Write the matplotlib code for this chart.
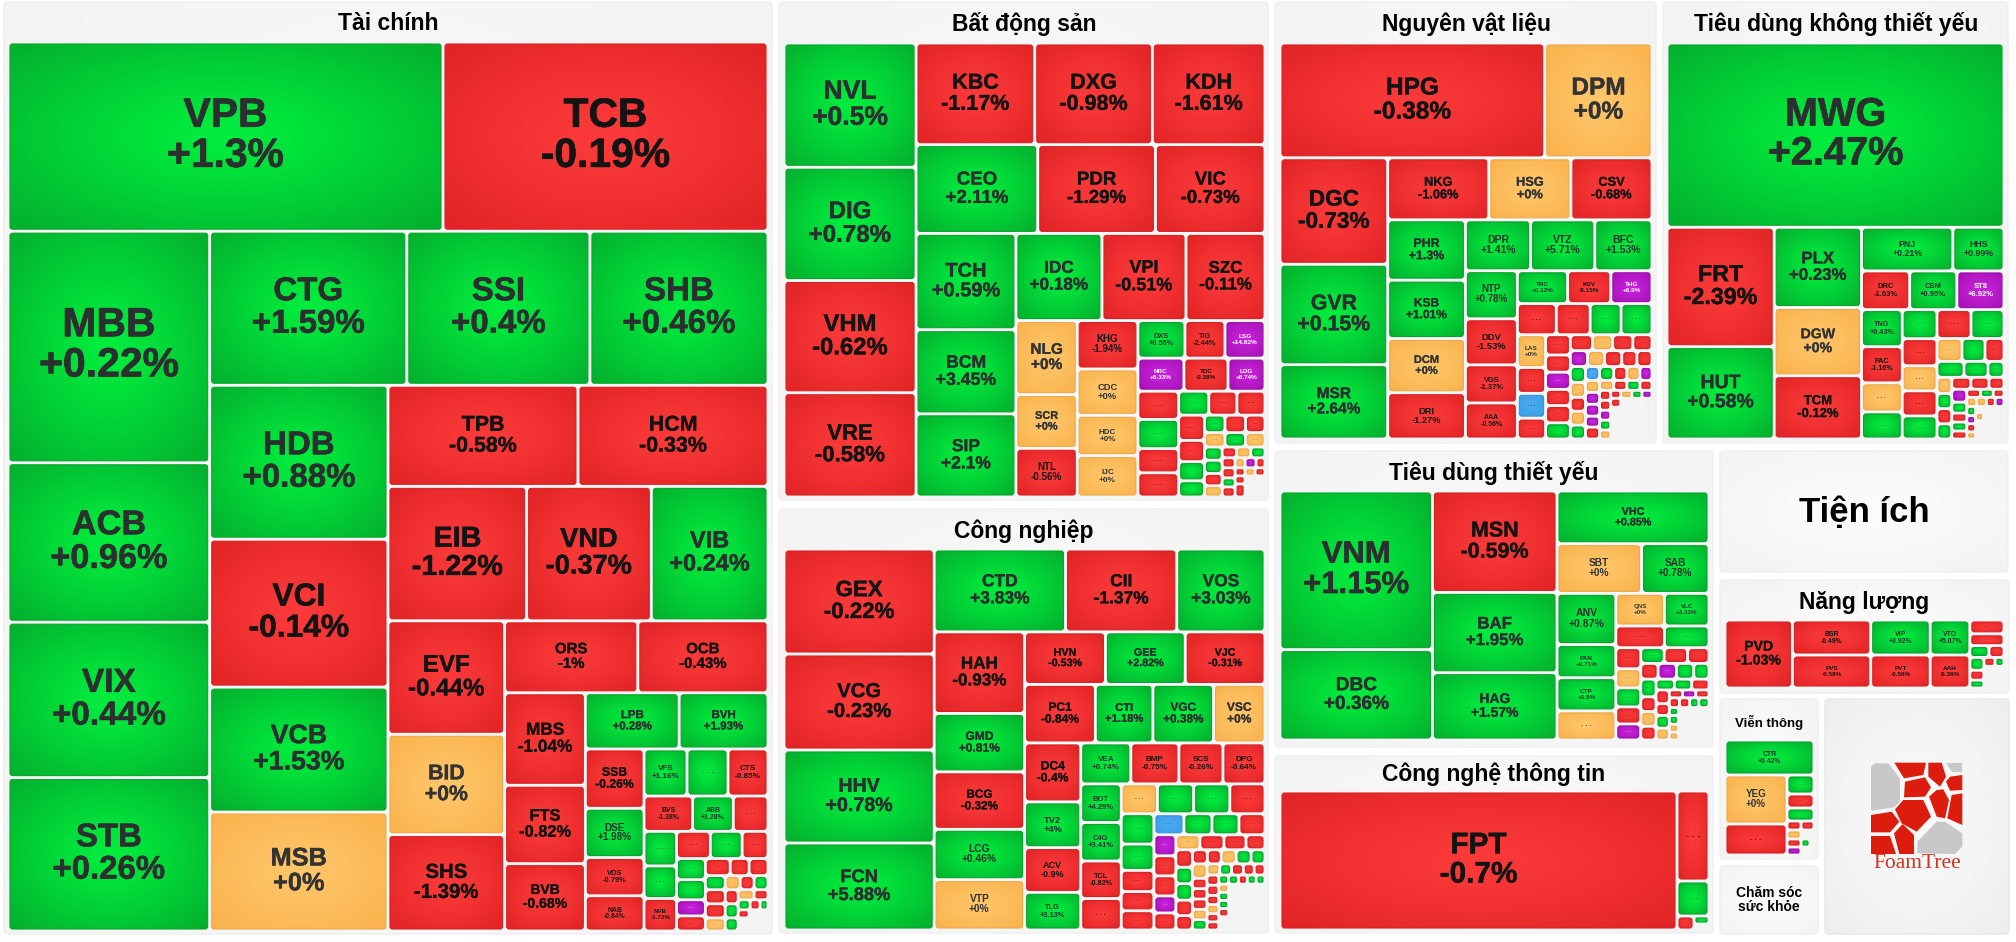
import numpy as np
import matplotlib
matplotlib.use('Agg')
import matplotlib.pyplot as plt
import matplotlib.patheffects as pe
from matplotlib.patches import FancyBboxPatch, Polygon

plt.rcParams['font.family'] = ['Liberation Sans', 'DejaVu Sans']

H = '...'   # ticker hidden by the chart because its cell is small
N = ''      # empty slot left at the end of a treemap

# ---- Tài chính
TC_TICKERS = ['VPB','TCB','MBB','ACB','VIX','STB','CTG','SSI','SHB','HDB','VCI','VCB','MSB','TPB','HCM',
              'EIB','VND','VIB','EVF','BID','SHS','ORS','OCB','MBS','FTS','BVB','LPB','BVH','SSB','DSE',
              'VDS','NAB','VFS',H,'CTS','BVS','ABB',H,H,H,'NVB'] + [H]*26 + [N,N]
TC_CHANGES = [1.3,-0.19,0.22,0.96,0.44,0.26,1.59,0.4,0.46,0.88,-0.14,1.53,0,-0.58,-0.33,
              -1.22,-0.37,0.24,-0.44,0,-1.39,-1,-0.43,-1.04,-0.82,-0.68,0.28,1.93,-0.26,1.98,
              -0.79,-0.84,1.16,0.5,-0.85,-1.38,1.28,-0.5,0.5,0.5,-1.72,-0.5,0.5,-0.5,
              0.5,0.5,7,-0.5,-0.5,-0.5,-0.5,0.5,0,-0.5,0.5,-0.5,-0.5,0,-0.5,0.5,0.5,0,-0.5,0.5,-0.5,0.5,-0.5,0,0]
TC_WEIGHTS = [82215,61425,46662,32118,31310,30906,30338,28182,27412,27412,26344,22250,21182,19190,19190,
              18626,16750,15678,13221,11700,11232,9576,9360,7452,6318,5427,5264,4984,3481,2891,
              2242,2065,2021,1927,1880,1715,1435,1225,1122,1056,1056,918,864,702,
              609,580,464,435,425,323,323,280,210,196,196,280,280,260,182,182,169,160,140,120,100,80,88,152,390]
TC_SPLITS = ("[[..][[....][[...][[....][[..][...][[...][[..][[...][[..][[....][[...][...]"
             "[[...][[...][[....][[...][....][[...][...][[..][...][..].")

# ---- Bất động sản
BDS_TICKERS = ['NVL','DIG','VHM','VRE','KBC','DXG','KDH','CEO','PDR','VIC','TCH','BCM','SIP','IDC','VPI','SZC',
               'NLG','SCR','NTL','KHG','CDC','HDC','IJC','DXS','TIG','LSG','NRC','TDC','LDG'] + [H]*34 + [H,N,H,N]
BDS_CHANGES = [0.5,0.78,-0.62,-0.58,-1.17,-0.98,-1.61,2.11,-1.29,-0.73,0.59,3.45,2.1,0.18,-0.51,-0.11,
               0,0,-0.56,-1.94,0,0,0,0.56,-2.44,14.82,8.33,-0.38,6.74,
               -0.5,0.5,-0.5,-0.5,0.5,-0.5,-0.5,-0.5,-0.5,0.5,0.5,0.5,-0.5,-0.5,0,0.5,0,
               0.5,0.5,-0.5,0,-0.5,0,0.5,-0.5,-0.5,0.5,-0.5,0,7,-0.5,-0.5,0,-0.5,-0.5,0,-0.5,0]
BDS_WEIGHTS = [16368,14916,14784,13728,12036,11934,11424,10769,10413,9701,9595,8383,8282,7482,7308,6873,
               4526,3286,2976,2928,2806,2440,2501,1763,1500,1500,1518,1452,1221,
               1148,1189,984,984,720,672,672,650,546,494,416,357,357,340,294,294,280,
               234,234,216,198,154,154,154,130,130,117,130,100,110,90,80,80,80,80,160,130,260]
BDS_SPLITS = ("[[....][[...][...][[...][[...][[...][....][[...][...][[....][[...][[....]"
              "[[...][...][[....][[...][[....][[...][...][..][..")

# ---- Công nghiệp
CN_TICKERS = ['GEX','VCG','HHV','FCN','CTD','CII','VOS','HAH','GMD','BCG','LCG','VTP','HVN','GEE','VJC',
              'PC1','CTI','VGC','VSC','DC4','TV2','ACV','TLG','VEA','BMP','SCS','DPG','BOT','C4G','TCL',H] + [H]*58 + [N,N]
CN_CHANGES = [-0.22,-0.23,0.78,5.88,3.83,-1.37,3.03,-0.93,0.81,-0.32,0.46,0,-0.53,2.82,-0.31,
              -0.84,1.18,0.38,0,-0.4,4,-0.9,3.13,0.74,-0.75,-0.26,-0.64,4.29,3.41,-0.82,-0.5,
              0,0.5,0.5,-0.5, 0.5,0.5,-0.5,-0.5,-0.5, -9.5,0.5,0.5,-0.5, 7,-0.5,-0.5,7,-0.5,
              0,-0.5,-0.5,-0.5, -0.5,0.5,0.5,-0.5,-0.5, -0.5,-0.5,0,0.5,0.5, 0,-0.5,-0.5,-0.5,0,0.5,
              0,0.5,-0.5,-0.5,-0.5, -0.5,-0.5,-0.5,0,-0.5,-0.5, 0.5,0.5,-0.5,0.5,0.5, 0,0.5,0.5,-0.5,0,0]
CN_WEIGHTS = [15750,14400,13950,13050,10873,9213,7304,7371,5278,5187,4550,4550,4240,4187,4187,
              4130,3363,3540,3009,3306,2565,2508,2109,2050,1968,1804,1722,1558,1558,1517,1271,
              1080,1080,1080,1050, 990,858,693,627,627, 630,588,567,546, 462,440,440,374,374,
              360,360,330,285, 289,272,272,255,238, 210,196,210,210,196, 210,150,150,150,150,150,
              143,132,132,121,121, 120,120,108,108,96,96, 90,90,81,81,81, 80,80,80,80,130,1665]
CN_SPLITS = ("[[....][[...][[.....][[...][....][[....][[....][[....][[....][[.....][[....]"
             "[[.....][[....][[.....][[.....][[......][[.....][[......][[.....][[.....].")

# ---- Nguyên vật liệu
NVL_TICKERS = ['HPG','DPM','DGC','GVR','MSR','NKG','HSG','CSV','PHR','KSB','DCM','DRI','DPR','VTZ','BFC',
               'NTP','DDV','VGS','AAA','TRC','KSV','THG',H,H,H,H,'LAS',H,H,H] + [H]*43 + [H,N,N]
NVL_CHANGES = [-0.38,0,-0.73,0.15,2.64,-1.06,0,-0.68,1.3,1.01,0,-1.27,1.41,5.71,1.53,
               0.78,-1.53,-1.37,-0.56,0.12,-8.15,6.9,-0.5,-0.5,0.5,0.5,0,-0.5,-9.5,-0.5,
               -0.5,-0.5,7,-0.5,-0.5,0.5, -0.5,0,-0.5,-0.5, 7,0,-0.5,-0.5,-0.5,
               0.5,0,-0.5,0,0.5, -9.5,0.5,-0.5,0,7, 0,7,7,7,-0.5, 0,-0.5,0.5,-0.5,
               -0.5,-0.5,7,0.5,0, -0.5,0,0.5,7, -0.5,0,0]
NVL_WEIGHTS = [30360,12305,11448,10800,7992,6262,5084,5022,4680,4524,4212,3588,3315,3264,2907,
               2496,2392,1976,1872,1650,1419,1353,1209,1054,961,961,924,728,700,588,
               500,425,425,400,425,400, 352,320,320,304, 272,272,272,240,240,
               240,225,210,210,210, 196,196,182,182,168, 168,168,168,154,168, 140,130,130,120,
               110,110,110,110,99, 80,88,80,80, 90,279,1312]
NVL_SPLITS = ("[[..][[...][[...][[....][[...][[....][[...][....][[....][......][[....][.....]"
              "[[.....][[.....][[.....][[....][[.....][[....][..].")

# ---- Tiêu dùng không thiết yếu
TDK_TICKERS = ['MWG','FRT','HUT','PLX','DGW','TCM','PNJ','HHS','DRC','CSM','ST8','TNG','PAC',H,H] + [H]*36 + [N,H,N,N]
TDK_CHANGES = [2.47,-2.39,0.58,0.23,0,-0.12,0.21,0.99,-1.03,0.95,6.92,0.43,-1.16,0,0.5,
               0.5,-0.5,0,-0.5,0.5, -0.5,0.5, 0,0.5,-0.5, 0.5,0.5,0.5, 0,0.5,-0.5,0.5, -0.5,-0.5,-0.5,
               7,0.5,-0.5,0.5,-0.5, -0.5,0.5,-0.5, 0,0,-0.5,7, 0.5,7,-0.5,0, 0,0,0,0]
TDK_WEIGHTS = [62345,12852,9936,7040,5984,5544,4004,2244,1872,1833,1833,1517,1476,1189,1107,
               1015,945,875,875,805, 986,957, 575,529,437, 432,384,256, 240,225,225,225, 228,216,180,
               195,165,135,135,120, 112,104,88, 90,90,81,81, 81,72,72,63, 174,64,168,522]
TDK_SPLITS = ("[.[[..][...][[..][...][[....][.....][[..][...][...][[....][[...][[.....]"
              "[[...][....][[....][.[..].")

# ---- Tiêu dùng thiết yếu
TDT_TICKERS = ['VNM','DBC','MSN','BAF','HAG','VHC','SBT','SAB','ANV','PAN','CTP',H,'QNS','VLC',H,H] + [H]*34 + [N]
TDT_CHANGES = [1.15,0.36,-0.59,1.95,1.57,0.85,0,0.78,0.87,0.71,0.5,0,0,3.33,-0.5,0.5,
               -0.5,0,0.5,-0.5,7, 0.5,-0.5,-0.5, -0.5,7,0.5,0.5, 0.5,-0.5,0,-0.5, 0.5,0.5,-0.5,
               -0.5,-0.5,0.5,0, -0.5,7,-0.5, -0.5,-0.5,0.5,0.5, 0.5,0.5,0,0,0]
TDT_WEIGHTS = [24174,13770,12625,10000,8375,8003,4200,3350,3009,1947,1947,1711,1584,1452,1056,968,
               525,475,475,425,400, 368,368,336, 272,288,272,240, 270,225,225,210, 198,187,187,
               182,156,169,156, 104,104,104, 100,100,90,100, 72,81,72,72,990]
TDT_SPLITS = ("[[..][...][.[..][[....][[..][..][[.....][[...][....][[....][[...][[....]"
              "[[...][....][[....].")

# ---- Công nghệ thông tin
CNTT_TICKERS = ['FPT',H,H,H,H,N]
CNTT_CHANGES = [-0.7,-0.5,0.5,-0.5,0.5,0]
CNTT_WEIGHTS = [55183,2880,1120,238,120,90]
CNTT_SPLITS = "[.[..[.[.."

# ---- Năng lượng
NL_TICKERS = ['PVD','BSR','PVS','VIP','VTO','PVT','AAH',H,H,H,H,H,H,H,H,H,N]
NL_CHANGES = [-1.03,-0.49,-0.58,3.92,5.07,-0.56,-5.36,-0.5,-0.5,0.5,-0.5,0.5,-0.5,0.5,-0.5,0.5,0]
NL_WEIGHTS = [4624,2765,2607,2100,1400,1980,1320,476,408,228,180,182,140,112,99,81,440]
NL_SPLITS = "[.[..][[..][..]][..[..][[...][[..]."

# ---- Viễn thông
VT_TICKERS = ['CTR','YEG',H,H,H,H,H,H,H,H,H,N,H,N,N]
VT_CHANGES = [0.42,0,-0.5,0.5,-0.5,0.5,-0.5,-0.5,0,-0.5,7,0,0.5,0,0]
VT_WEIGHTS = [3115,3038,1922,513,378,351,126,117,126,112,112,117,72,32,104]
VT_SPLITS = "[.[[..][...[..][[...][.[..]."

# ---- Panel layout (pixel rectangles of the page, not data)
GROUPS = [
    ('Tài chính', (4,2,772,934), (388,24), 16.5, (10,44,766,929), 'v', TC_TICKERS, TC_CHANGES, TC_WEIGHTS, TC_SPLITS),
    ('Bất động sản', (779,2,1268,500), (1024,24), 16.5, (786,45,1263,495), 'h', BDS_TICKERS, BDS_CHANGES, BDS_WEIGHTS, BDS_SPLITS),
    ('Công nghiệp', (779,509,1268,933), (1024,531), 16.5, (786,551,1263,928), 'h', CN_TICKERS, CN_CHANGES, CN_WEIGHTS, CN_SPLITS),
    ('Nguyên vật liệu', (1275,2,1656,443), (1466,24), 16.5, (1282,45,1650,437), 'v', NVL_TICKERS, NVL_CHANGES, NVL_WEIGHTS, NVL_SPLITS),
    ('Tiêu dùng không thiết yếu', (1663,2,2008,443), (1836,24), 16.5, (1669,45,2002,437), 'v', TDK_TICKERS, TDK_CHANGES, TDK_WEIGHTS, TDK_SPLITS),
    ('Tiêu dùng thiết yếu', (1275,451,1713,747), (1494,473), 16.5, (1282,493,1707,738), 'h', TDT_TICKERS, TDT_CHANGES, TDT_WEIGHTS, TDT_SPLITS),
    ('Công nghệ thông tin', (1275,756,1713,933), (1494,774), 16.5, (1282,793,1707,928), 'h', CNTT_TICKERS, CNTT_CHANGES, CNTT_WEIGHTS, CNTT_SPLITS),
    ('Năng lượng', (1720,580,2009,693), (1864,603), 16.5, (1727,622,2002,686), 'h', NL_TICKERS, NL_CHANGES, NL_WEIGHTS, NL_SPLITS),
    ('Viễn thông', (1720,699,1818,859), (1769,722), 9.5, (1727,742,1812,853), 'v', VT_TICKERS, VT_CHANGES, VT_WEIGHTS, VT_SPLITS),
    ('Tiện ích', (1720,451,2008,572), (1864,512), 25, None, None, None, None, None, None),
    ('Chăm sóc\nsức khỏe', (1720,866,1818,934), (1769,900), 10, None, None, None, None, None, None),
]

PALETTE = {
    'up':    ((0, 238, 62),  (4, 176, 46),  '#2b2f2f'),
    'down':  ((252, 58, 58), (226, 36, 38), '#141414'),
    'flat':  ((255, 198, 106), (250, 178, 76), '#333333'),
    'ceil':  ((200, 34, 222), (166, 17, 180), '#ffffff'),
    'floor': ((72, 172, 242), (58, 156, 230), '#333333'),
}

fig = plt.figure(figsize=(20.16, 9.42), dpi=100, facecolor='white')
ax = fig.add_axes([0, 0, 1, 1])
ax.set_xlim(0, 2016)
ax.set_ylim(942, 0)
ax.axis('off')


def radial(center, edge, n=32):
    g = np.linspace(-1, 1, n)
    xx, yy = np.meshgrid(g, g)
    t = (np.sqrt(xx**2 + yy**2) / np.sqrt(2))[..., None] ** 1.2
    c = np.array(center, float) / 255
    e = np.array(edge, float) / 255
    return c * (1 - t) + e * t


GRADS = {k: radial(v[0], v[1]) for k, v in PALETTE.items()}
PANEL_GRAD = radial((252, 252, 252), (243, 243, 243))


def round_patch(x0, y0, x1, y1, r, **kw):
    return FancyBboxPatch((x0 + r, y0 + r), x1 - x0 - 2 * r, y1 - y0 - 2 * r,
                          boxstyle=f'round,pad={r},rounding_size={r}', **kw)


def gradient_box(x0, y0, x1, y1, r, grad, edge, lw, z):
    im = ax.imshow(grad, extent=(x0, x1, y1, y0), aspect='auto',
                   interpolation='bilinear', zorder=z)
    p = round_patch(x0, y0, x1, y1, r, facecolor='none', edgecolor=edge, linewidth=lw, zorder=z + 0.1)
    ax.add_patch(p)
    im.set_clip_path(p)


def parse(spec):
    """'[' opens a stack, '.' is the next leaf; unclosed brackets end with the string."""
    pos = [1]
    leaf = [0]

    def node():
        kids = []
        while pos[0] < len(spec):
            ch = spec[pos[0]]
            pos[0] += 1
            if ch == '[':
                kids.append(node())
            elif ch == ']':
                return kids
            else:
                kids.append(leaf[0])
                leaf[0] += 1
        return kids

    tree = node()
    return tree, leaf[0]


def total(node, weights):
    if isinstance(node, int):
        return weights[node]
    return sum(total(k, weights) for k in node)


def place(node, box, vertical, weights, out):
    if isinstance(node, int):
        out[node] = box
        return
    x0, y0, x1, y1 = box
    tot = total(node, weights)
    pos = y0 if vertical else x0
    for k in node:
        frac = total(k, weights) / tot
        if vertical:
            nxt = pos + frac * (y1 - y0)
            place(k, (x0, pos, x1, nxt), False, weights, out)
        else:
            nxt = pos + frac * (x1 - x0)
            place(k, (pos, y0, nxt, y1), True, weights, out)
        pos = nxt


def state(c):
    if c >= 6.7:
        return 'ceil'
    if c <= -9:
        return 'floor'
    if c > 0:
        return 'up'
    if c < 0:
        return 'down'
    return 'flat'


def em_width(s):
    """Width of a bold label in font-size units, used to fit it into its cell."""
    table = {'+': 0.584, '-': 0.333, '.': 0.278, '%': 0.889, 'I': 0.278, 'M': 0.833,
             'T': 0.611, 'L': 0.611, 'J': 0.556}
    return sum(table.get(ch, 0.556 if ch.isdigit() else 0.72) for ch in s)


def draw_cell(box, ticker, change):
    if ticker == N:
        return
    x0, y0, x1, y1 = box[0] + 2, box[1] + 2, box[2] - 2, box[3] - 2
    w, h = x1 - x0, y1 - y0
    st = state(change)
    r = min(2.5, min(w, h) / 4)
    gradient_box(x0, y0, x1, y1, r, GRADS[st], tuple(np.array(PALETTE[st][1]) / 255 * 0.95), 0.8, 3)
    cx, cy = (x0 + x1) / 2, (y0 + y1) / 2
    col = PALETTE[st][2]
    if ticker == H:
        if min(w, h) < 6:
            return
        px = 0.21 * np.sqrt(w * h)
        ax.text(cx, cy + 0.05 * px, '. . .', fontsize=px * 0.72, fontweight='bold', color=col,
                ha='center', va='baseline', zorder=4)
        return
    label = f'{change:+g}%'
    px = min(0.21 * h, 0.68 * w / max(em_width(ticker), em_width(label)), 39)
    cap = 0.716 * px
    pt = px * 0.72 * 1.05
    cy -= 0.02 * h
    effects = [pe.withStroke(linewidth=0.012 * px, foreground=col)] if px > 10 else None
    ax.text(cx, cy - 0.72 * cap + 0.5 * cap, ticker, fontsize=pt, fontweight='bold', color=col,
            ha='center', va='baseline', zorder=4, path_effects=effects)
    ax.text(cx, cy + 0.72 * cap + 0.5 * cap, label, fontsize=pt, fontweight='bold', color=col,
            ha='center', va='baseline', zorder=4, path_effects=effects)


for title, panel, tpos, tsize, box, direction, tickers, changes, weights, splits in GROUPS:
    gradient_box(*panel, 4, PANEL_GRAD, '#eeeeee', 1.0, 1)
    ax.text(tpos[0], tpos[1], title, fontsize=tsize, fontweight='bold', color='black',
            ha='center', va='center', linespacing=1.05, zorder=2)
    if box is None:
        continue
    tree, n_leaves = parse(splits)
    assert n_leaves == len(tickers) == len(changes) == len(weights), (title, n_leaves, len(tickers), len(changes), len(weights))
    rects = {}
    outer = (box[0] - 2, box[1] - 2, box[2] + 2, box[3] + 2)
    place(tree, outer, direction == 'v', weights, rects)
    for i, (t, c) in enumerate(zip(tickers, changes)):
        draw_cell(rects[i], t, c)

# ---- FoamTree logo panel
gradient_box(1825, 699, 2009, 934, 4, radial((250, 250, 250), (238, 238, 238)), '#e8e8e8', 1.0, 1)
LOGO_RED = [
    [(553,578),(648,578),(640,615),(582,625)],
    [(655,578),(695,578),(708,620),(690,650),(655,620)],
    [(720,620),(757,615),(757,660),(720,662),(708,635)],
    [(585,635),(645,622),(663,652),(645,680),(582,682)],
    [(680,660),(700,658),(717,690),(705,745),(680,740),(657,680)],
    [(725,675),(757,670),(757,765),(712,745)],
    [(580,690),(640,690),(663,740),(620,785),(575,760),(555,718)],
    [(483,735),(545,725),(568,755),(540,787),(483,787)],
    [(483,798),(540,798),(558,852),(483,852)],
    [(578,762),(612,795),(612,852),(568,852),(552,790)],
]
LOGO_GRAY = [
    [(483,590),(495,580),(535,580),(570,625),(570,695),(553,712),(483,722)],
    [(708,578),(757,578),(757,605),(725,605)],
    [(622,850),(622,815),(680,755),(705,755),(757,790),(757,830),(735,852)],
]
to_px = lambda pts: [(1710 + x / 3, 570 + y / 3) for x, y in pts]
for pts in LOGO_RED:
    ax.add_patch(Polygon(to_px(pts), closed=True, facecolor='#dc1c0c', edgecolor='none', zorder=3))
for pts in LOGO_GRAY:
    ax.add_patch(Polygon(to_px(pts), closed=True, facecolor='#c8c8c8', edgecolor='none', zorder=3))
ax.text(1917, 864, 'FoamTree', fontsize=15.5, family='Liberation Serif', color='#d8301f',
        ha='center', va='center', zorder=3)

ax.set_xlim(0, 2016)
ax.set_ylim(942, 0)
fig.savefig('out.png', dpi=100, facecolor='white')
